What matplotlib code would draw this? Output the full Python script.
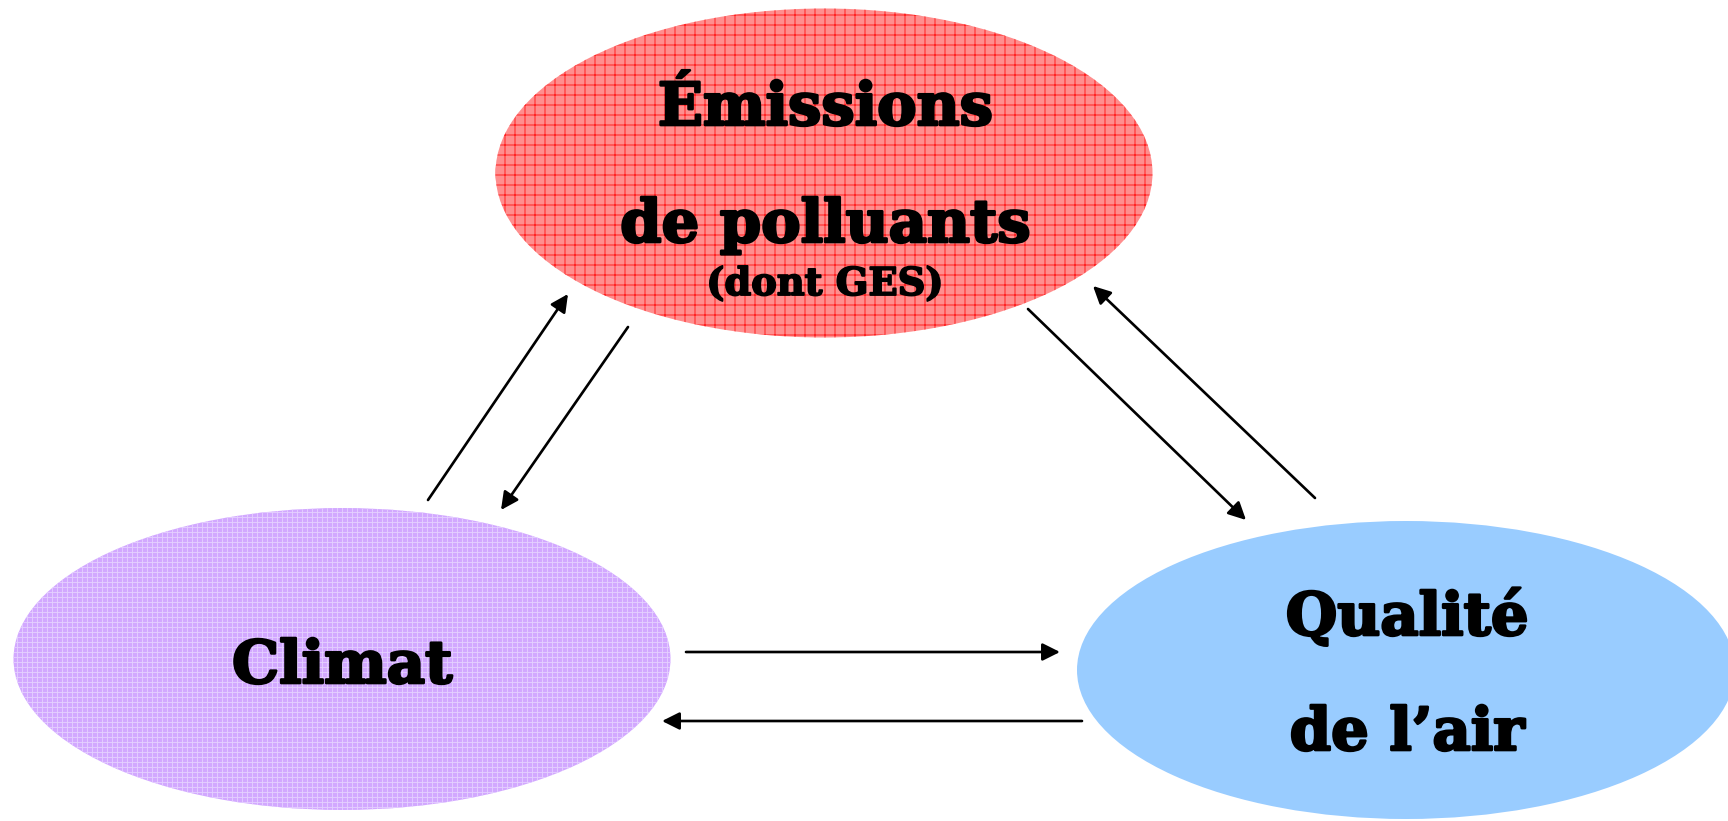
import matplotlib
matplotlib.use("Agg")
import matplotlib.pyplot as plt
import matplotlib.patheffects as pe
from matplotlib.patches import Ellipse

# =========================
# Contenu du schéma
# =========================
noeuds = ["emissions", "climat", "qualite"]
titres = {
    "emissions": ["Émissions", "de polluants"],
    "climat": ["Climat"],
    "qualite": ["Qualité", "de l’air"],
}
sous_titre = "(dont GES)"

# liens entre les noeuds (départ, arrivée)
liens = [
    ("climat", "emissions"),
    ("emissions", "climat"),
    ("emissions", "qualite"),
    ("qualite", "emissions"),
    ("climat", "qualite"),
    ("qualite", "climat"),
]

# =========================
# Mise en page (pixels)
# =========================
centres = {"emissions": (824, 173), "climat": (342, 659), "qualite": (1406, 670)}
tailles = {"emissions": (657, 329), "climat": (657, 302), "qualite": (658, 298)}
styles = {
    "emissions": dict(facecolor="#ff8e8e", edgecolor="#ff1a1a", hatch="++"),
    "climat": dict(facecolor="#d2a8ff", edgecolor="#e4ceff", hatch="++++"),
    "qualite": dict(facecolor="#99ccff", edgecolor="#99ccff", hatch=None),
}
lignes_base = {
    "emissions": [125, 242],
    "climat": [683],
    "qualite": [635, 750],
}
x_texte = {"emissions": 825, "climat": 342, "qualite": 1407}

extremites = [
    ((428, 500), (568, 294)),
    ((628, 327), (501, 510)),
    ((1028, 309), (1246, 520)),
    ((1315, 498), (1093, 286)),
    ((686, 652), (1060, 652)),
    ((1082, 721), (662, 721)),
]

plt.rcParams["hatch.linewidth"] = 0.55

fig = plt.figure(figsize=(14.4, 821 / 120), dpi=120)
ax = fig.add_axes([0, 0, 1, 1])
ax.set_xlim(0, 1728)
ax.set_ylim(821, 0)
ax.axis("off")

police = dict(family="DejaVu Serif", weight="bold", color="black")
gras = [pe.withStroke(linewidth=1.6, foreground="black")]

for n in noeuds:
    w, h = tailles[n]
    ax.add_patch(Ellipse(centres[n], w, h, linewidth=0, **styles[n]))
    for texte, y in zip(titres[n], lignes_base[n]):
        ax.text(x_texte[n], y, texte, fontsize=35.5, ha="center",
                va="baseline", path_effects=gras, **police)

ax.text(x_texte["emissions"], 295, sous_titre, fontsize=23, ha="center",
        va="baseline", path_effects=[pe.withStroke(linewidth=1.1,
                                                   foreground="black")],
        **police)

for (depart, arrivee), (p0, p1) in zip(liens, extremites):
    ax.annotate("", xy=p1, xytext=p0,
                arrowprops=dict(arrowstyle="-|>", mutation_scale=22, lw=1.6,
                                color="black", shrinkA=0, shrinkB=0))

fig.savefig("out.png", dpi=120)
